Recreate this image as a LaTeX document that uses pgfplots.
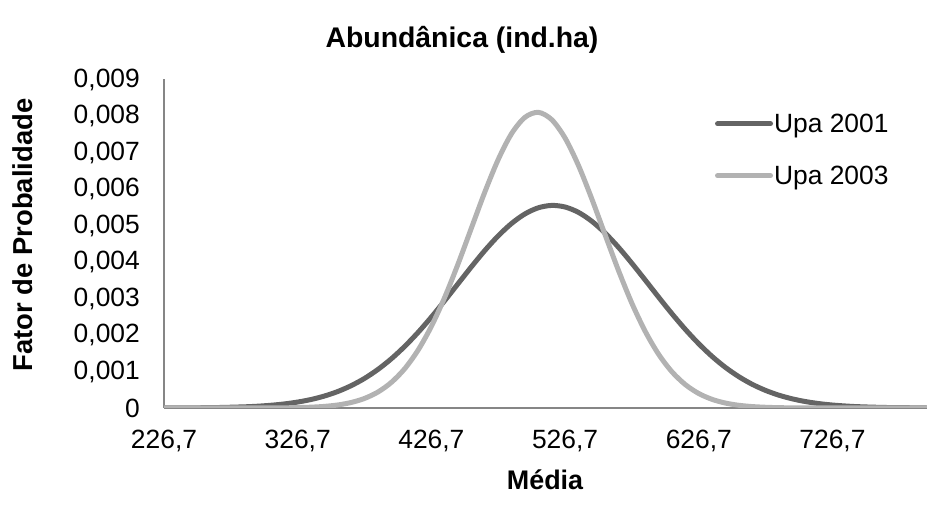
\documentclass[border=0pt]{standalone}
\usepackage{fontspec}
\setmainfont{Liberation Sans}
\usepackage{pgfplots}
\pgfplotsset{compat=1.18}
\definecolor{darkline}{HTML}{646464}
\definecolor{lightline}{HTML}{B2B2B2}
\definecolor{axisgray}{HTML}{868686}
\begin{document}
\begin{tikzpicture}
\useasboundingbox (0,0) rectangle (927bp,509bp);
\begin{axis}[
  at={(164bp,101bp)}, anchor=south west,
  scale only axis, width=763bp, height=328.5bp,
  xmin=226.7, xmax=797.4, ymin=0, ymax=0.009,
  axis x line=bottom, axis y line=left,
  axis line style={-, color=axisgray, line width=1.6bp},
  major tick length=0pt,
  scaled ticks=false,
  xtick={226.7,326.7,426.7,526.7,626.7,726.7},
  xticklabels={{226,7},{326,7},{426,7},{526,7},{626,7},{726,7}},
  ytick={0,0.001,0.002,0.003,0.004,0.005,0.006,0.007,0.008,0.009},
  yticklabels={0,{0,001},{0,002},{0,003},{0,004},{0,005},{0,006},{0,007},{0,008},{0,009}},
  tick label style={font=\fontsize{26.5}{30}\selectfont, inner sep=0pt},
  xticklabel style={anchor=north, yshift=-22bp},
  yticklabel style={anchor=east, xshift=-24bp},
  legend style={at={(0.718,0.905)}, anchor=north west, draw=none, fill=none,
    font=\fontsize{26.5}{30}\selectfont, row sep=30bp,
    nodes={inner sep=1bp}},
  legend cell align=left,
  legend image code/.code={\draw[#1, line cap=round] (0bp,0bp) -- (53bp,0bp);},
  /tikz/every even column/.append style={column sep=3bp},
]
\addplot[color=darkline, line width=5bp, smooth, line cap=round] coordinates {
(226.7,0.0000015) (246.7,0.0000046) (266.7,0.0000125) (286.7,0.000032)
(296.7,0.000049) (306.7,0.000075) (316.7,0.000111) (326.7,0.000163)
(336.7,0.000233) (346.7,0.000328) (356.7,0.000452) (366.7,0.000612)
(376.7,0.000811) (386.7,0.001056) (396.7,0.001347) (406.7,0.001686)
(416.7,0.002069) (426.7,0.002491) (436.7,0.002943) (446.7,0.003408)
(456.7,0.003872) (466.7,0.004316) (476.7,0.004717) (486.7,0.005057)
(496.7,0.005318) (506.7,0.005486) (516.7,0.005550) (526.7,0.005507)
(536.7,0.005360) (546.7,0.005116) (556.7,0.004791) (566.7,0.004400)
(576.7,0.003963) (586.7,0.003502) (596.7,0.003035) (606.7,0.002580)
(616.7,0.002151) (626.7,0.001759) (636.7,0.001411) (646.7,0.001110)
(656.7,0.000857) (666.7,0.000648) (676.7,0.000481) (686.7,0.000350)
(696.7,0.000250) (706.7,0.000175) (716.7,0.000120) (726.7,0.000081)
(736.7,0.000054) (746.7,0.000035) (766.7,0.000014) (796.7,0.000003)
};
\addlegendentry{Upa 2001}
\addplot[color=lightline, line width=5bp, smooth, line cap=round] coordinates {
(226.7,0) (256.7,0) (286.7,0.0000004) (306.7,0.0000023) (316.7,0.0000051)
(326.7,0.000011) (336.7,0.0000225) (346.7,0.000044) (356.7,0.000083)
(366.7,0.000151) (376.7,0.000262) (386.7,0.000437) (396.7,0.000700)
(406.7,0.001074) (416.7,0.001583) (426.7,0.002237) (436.7,0.003036)
(446.7,0.003952) (456.7,0.004938) (466.7,0.005920) (476.7,0.006810)
(486.7,0.007519) (496.7,0.007965) (506.7,0.008100) (516.7,0.007900)
(526.7,0.007396) (536.7,0.006645) (546.7,0.005728) (556.7,0.004738)
(566.7,0.003762) (576.7,0.002865) (586.7,0.002095) (596.7,0.001469)
(606.7,0.000989) (616.7,0.000639) (626.7,0.000396) (636.7,0.000236)
(646.7,0.000135) (656.7,0.000074) (666.7,0.000039) (676.7,0.000020)
(686.7,0.0000095) (706.7,0.000002) (796.7,0)
};
\addlegendentry{Upa 2003}
\end{axis}
\node[font=\bfseries\fontsize{28.5}{33}\selectfont, anchor=base] at (462bp,461bp) {Abundânica (ind.ha)};
\node[font=\bfseries\fontsize{27.5}{32}\selectfont, anchor=base, rotate=90] at (32bp,274bp) {Fator de Probalidade};
\node[font=\bfseries\fontsize{27}{31}\selectfont, anchor=base] at (545bp,20bp) {Média};
\end{tikzpicture}
\end{document}
